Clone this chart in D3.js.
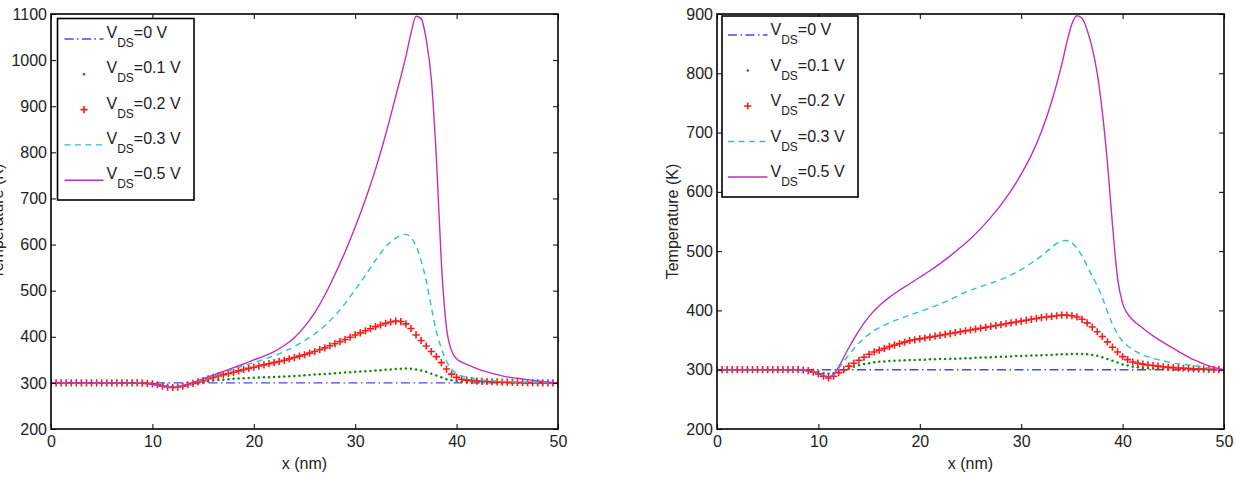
<!DOCTYPE html>
<html><head><meta charset="utf-8">
<script src="https://cdn.jsdelivr.net/npm/d3@7"></script>
<style>body{margin:0;background:#fff} svg text{font-family:"Liberation Sans",Arial,sans-serif;}</style>
</head><body><svg id="c" width="1236" height="484"></svg>
<script>
// ---------- shared ----------
const xTicks = [0, 10, 20, 30, 40, 50];
const seriesLabels = ["=0 V", "=0.1 V", "=0.2 V", "=0.3 V", "=0.5 V"];
const sampleStep = 0.5; // marker series are sampled every 0.5 nm
const yLabel = "Temperature (K)";
const xLabel = "x (nm)";

// ---------- left panel ----------
const L_yTicks = [200, 300, 400, 500, 600, 700, 800, 900, 1000, 1100];
const L_blueX = [0, 50];
const L_blueV = [300, 300];
const L_green = [
 300,300,300,300,300,300,300,300,300,300,
 300,300,300,300,300,300,300,300,300,299.5,
 298.5,297,295,293,292,292.5,294,296,298,300,
 302,303.5,305,306,307,308,309,309.5,310,310.5,
 311,311.5,312,312.5,313,313.5,314,314.5,315,315.5,
 316.5,317,318,318.5,319.5,320,321,321.5,322.5,323,
 324,324.5,325.5,326,327,327.5,328.5,329,330,330.5,
 331,330.5,329,327,324,320,316,312,308,305.5,
 304,303,302,301.5,301,300.5,300.5,300.5,300.5,300,
 300,300,300,300,300,300,300,300,300,300,
 300];
const L_red = [
 300,300,300,300,300,300,300,300,300,300,
 300,300,300,300,300,300,300,300,299.5,299,
 298,296,293,291,290,290.5,293,296,299,302,
 305,309,312,315,318,320.5,323,326,329,331.5,
 334,336.5,339,341.5,344,346.5,349,352,355,358,
 361,364.5,368,372,376,380.5,385,389.5,394,399,
 404,408.5,413,417.5,422,425.5,429,432,434,433,
 428,418,404,392,380,368,357,344,330,319,
 312,308,306,305,304,303.5,303,302.5,302,301.5,
 301.5,301,301,300.5,300.5,300.5,300,300,300,300,
 300];
const L_cyanX = [0,3,6,9,10,11,12,13,14,15,16,17,18,19,20,21,22,23,24,25,26,27,28,29,30,31,32,33,34,34.5,35,35.5,36,36.5,37,37.5,38,38.5,39,39.5,40,41,42,43,44,46,48,50];
const L_cyanV = [300,300,300,300,297,293,290,293,300,307,315,322,330,337,344,351,359,368,379,392,406,424,446,472,502,533,566,595,614,620,622,615,597,565,522,465,412,375,347,330,320,312,308,305,304,302,301,300];
const L_magX = [0,3,6,9,10,11,12,13,14,15,16,17,18,19,20,21,22,23,24,25,26,27,28,29,30,31,32,33,34,35,35.5,36,36.5,37,37.5,38,38.5,39,39.5,40,40.5,41,42,43,44,45,46,47,48,49,50];
const L_magV = [300,300,300,299,297,293,290,293,301,309,317,325,333,341,350,358,368,381,398,422,452,490,535,584,638,697,763,838,922,1008,1058,1095,1090,1045,960,790,560,420,370,352,345,340,331,324,318,313,310,307,304,302,300];

// ---------- right panel ----------
const R_yTicks = [200, 300, 400, 500, 600, 700, 800, 900];
const R_blueX = [0, 50];
const R_blueV = [300, 300];
const R_green = [
 300,300,300,300,300,300,300,300,300,300,
 300,300,300,300,300,300,300,299.5,299,297.5,
 296,294,293,294,296,299,302,305,307.5,309.5,
 311,312.5,313.5,314,314.5,315,315.5,316,316.5,316.5,
 317,317,317.5,317.5,318,318,318.5,318.5,319,319.5,
 319.5,320,320.5,320.5,321,321.5,322,322,322.5,323,
 323,323.5,324,324,324.5,325,325,325.5,326,326,
 326.5,326.5,326.5,326,325,323.5,321,318,315,312,
 309,307,305,304,303,302.5,302,301.5,301,301,
 300.5,300.5,300.5,300.5,300,300,300,300,300,300,
 300];
const R_red = [
 300,300,300,300,300,300,300,300,300,300,
 300,300,300,300,300,300,300,299.5,298.5,296,
 293,289,286,289,295,300,306,311,316,321,
 326,330,333,336,339,341.5,344,346.5,349,350.5,
 352,353.5,355,356.5,358,359.5,361,362.5,364,365.5,
 367,368.5,370,371.5,373,374.5,376,377.5,379,380.5,
 382,383.5,385,386.5,388,389,390,391,392,392,
 391,389,385,379,372,364,356,347,338,330,
 322,317,313,311,309.5,308,307,306,305,304,
 303.5,303,302.5,302,301.5,301,301,300.5,300.5,300,
 300];
const R_cyanX = [0,3,6,8,9,10,11,11.5,12,13,14,15,16,17,18,19,20,21,22,23,24,25,26,27,28,29,30,31,32,33,33.5,34,34.5,35,35.5,36,36.5,37,37.5,38,38.5,39,39.5,40,40.5,41,42,43,44,45,46,47,48,49,50];
const R_cyanV = [300,300,300,300,298.5,294,288,291,302,325,345,360,371,379,386,392,398,404,411,418,427,434,440,446,452,460,469,480,492,506,513,517,518,514,505,492,475,458,442,422,398,377,360,348,340,334,325,319,315,311,309,307,304,302,300];
const R_magX = [0,3,6,8,9,10,11,11.5,12,13,14,15,16,17,18,19,20,21,22,23,24,25,26,27,28,29,30,31,32,33,34,34.5,35,35.5,36,36.5,37,37.5,38,38.5,39,39.5,40,40.5,41,42,43,44,45,46,47,48,49,50];
const R_magV = [300,300,300,300,298,293,288,292,305,337,366,390,408,422,434,445,456,467,479,492,506,521,538,557,578,602,630,662,702,752,815,852,883,897,893,873,843,800,735,650,545,455,412,394,384,370,357,346,336,326,317,310,304,300];

// ---------- styles ----------
const C_blue = "#4646f0", C_green = "#108a10", C_red = "#ff1a1a", C_cyan = "#2cc4c4", C_mag = "#c22ec2";

const svg = d3.select("#c");

function panel(o) {
  const x = d3.scaleLinear().domain([0, 50]).range([o.l, o.r]);
  const y = d3.scaleLinear().domain(o.yDom).range([o.b, o.t]);
  const g = svg.append("g");
  const clipId = "clip" + o.id;
  svg.append("clipPath").attr("id", clipId).append("rect")
    .attr("x", o.l).attr("y", o.t).attr("width", o.r - o.l).attr("height", o.b - o.t);
  const dg = g.append("g").attr("clip-path", `url(#${clipId})`);
  const line = d3.line().x(d => x(d[0])).y(d => y(d[1])).curve(d3.curveMonotoneX);
  const grid = o.green.map((v, i) => i * sampleStep);

  dg.append("path").datum(d3.zip(o.blueX, o.blueV)).attr("d", line)
    .attr("fill", "none").attr("stroke", C_blue).attr("stroke-width", 1.4).attr("stroke-dasharray", "9,3.5,1.5,3.5");
  dg.append("g").selectAll("circle").data(d3.zip(grid, o.green)).join("circle")
    .attr("cx", d => x(d[0])).attr("cy", d => y(d[1])).attr("r", 1.25).attr("fill", C_green);
  dg.append("g").selectAll("path").data(d3.zip(grid, o.red)).join("path")
    .attr("d", d => { const cx = x(d[0]), cy = y(d[1]), s = 3.6; return `M${cx - s},${cy}H${cx + s}M${cx},${cy - s}V${cy + s}`; })
    .attr("stroke", C_red).attr("stroke-width", 1.6).attr("fill", "none");
  dg.append("path").datum(d3.zip(o.cyanX, o.cyanV)).attr("d", line)
    .attr("fill", "none").attr("stroke", C_cyan).attr("stroke-width", 1.4).attr("stroke-dasharray", "6,4.5");
  dg.append("path").datum(d3.zip(o.magX, o.magV)).attr("d", line)
    .attr("fill", "none").attr("stroke", C_mag).attr("stroke-width", 1.4);

  const styleAxis = sel => {
    sel.select(".domain").remove();
    sel.selectAll(".tick line").attr("stroke", "#000").attr("stroke-width", 1);
    sel.selectAll(".tick text").attr("font-size", 16).attr("fill", "#222")
      .attr("font-family", '"Liberation Sans", Arial, sans-serif');
  };
  g.append("g").attr("transform", `translate(0,${o.b})`)
    .call(d3.axisBottom(x).tickValues(xTicks).tickFormat(d3.format("d")).tickSizeInner(-5).tickSizeOuter(0).tickPadding(7)).call(styleAxis);
  g.append("g").attr("transform", `translate(0,${o.t})`)
    .call(d3.axisTop(x).tickValues(xTicks).tickFormat("").tickSizeInner(-5).tickSizeOuter(0)).call(styleAxis);
  g.append("g").attr("transform", `translate(${o.l},0)`)
    .call(d3.axisLeft(y).tickValues(o.yTicks).tickFormat(d3.format("d")).tickSizeInner(-5).tickSizeOuter(0).tickPadding(4)).call(styleAxis);
  g.append("g").attr("transform", `translate(${o.r},0)`)
    .call(d3.axisRight(y).tickValues(o.yTicks).tickFormat("").tickSizeInner(-5).tickSizeOuter(0)).call(styleAxis);
  g.append("rect").attr("x", o.l).attr("y", o.t).attr("width", o.r - o.l).attr("height", o.b - o.t)
    .attr("fill", "none").attr("stroke", "#000").attr("stroke-width", 1.6);

  g.append("text").attr("x", (o.l + o.r) / 2).attr("y", 469).attr("text-anchor", "middle")
    .attr("font-size", 16).attr("fill", "#222").text(xLabel);
  g.append("text").attr("transform", `translate(${o.ylx},${(o.t + o.b) / 2}) rotate(-90)`)
    .attr("text-anchor", "middle").attr("font-size", 16).attr("fill", "#222").text(yLabel);

  const lg = g.append("g");
  lg.append("rect").attr("x", o.lgx).attr("y", o.lgy).attr("width", o.lgw).attr("height", o.lgh)
    .attr("fill", "#fff").attr("stroke", "#000").attr("stroke-width", 1.6);
  const rows = seriesLabels.map((s, i) => ({ s, i, yy: o.row0 + i * o.rowDy }));
  rows.forEach(r => {
    const sx0 = o.sx0, sx1 = o.sx1, mx = (sx0 + sx1) / 2;
    if (r.i === 0) lg.append("line").attr("x1", sx0).attr("x2", sx1).attr("y1", r.yy).attr("y2", r.yy)
      .attr("stroke", C_blue).attr("stroke-width", 1.4).attr("stroke-dasharray", "9,3.5,1.5,3.5");
    if (r.i === 1) lg.append("circle").attr("cx", mx).attr("cy", r.yy).attr("r", 1.25).attr("fill", C_green);
    if (r.i === 2) lg.append("path").attr("d", `M${mx - 3.6},${r.yy}H${mx + 3.6}M${mx},${r.yy - 3.6}V${r.yy + 3.6}`)
      .attr("stroke", C_red).attr("stroke-width", 1.6);
    if (r.i === 3) lg.append("line").attr("x1", sx0).attr("x2", sx1).attr("y1", r.yy).attr("y2", r.yy)
      .attr("stroke", C_cyan).attr("stroke-width", 1.4).attr("stroke-dasharray", "6,4.5");
    if (r.i === 4) lg.append("line").attr("x1", sx0).attr("x2", sx1).attr("y1", r.yy).attr("y2", r.yy)
      .attr("stroke", C_mag).attr("stroke-width", 1.4);
    const t = lg.append("text").attr("x", o.tx).attr("y", r.yy + o.tdy).attr("font-size", 16).attr("fill", "#222");
    t.append("tspan").text("V");
    t.append("tspan").attr("dy", 9).attr("font-size", 12).text("DS");
    t.append("tspan").attr("dy", -9).text(r.s);
  });
}

panel({ id: "L", l: 51, r: 558, t: 14, b: 429, yDom: [200, 1100], yTicks: L_yTicks,
  blueX: L_blueX, blueV: L_blueV, green: L_green, red: L_red, cyanX: L_cyanX, cyanV: L_cyanV, magX: L_magX, magV: L_magV,
  ylx: 3, lgx: 57.5, lgy: 18.5, lgw: 136.5, lgh: 181.5, row0: 39, rowDy: 35.3, sx0: 64.5, sx1: 103.5, tx: 106.5, tdy: -1 });
panel({ id: "R", l: 717, r: 1224, t: 14, b: 429, yDom: [200, 900], yTicks: R_yTicks,
  blueX: R_blueX, blueV: R_blueV, green: R_green, red: R_red, cyanX: R_cyanX, cyanV: R_cyanV, magX: R_magX, magV: R_magV,
  ylx: 678, lgx: 722, lgy: 16, lgw: 136, lgh: 181, row0: 35, rowDy: 35.5, sx0: 728, sx1: 767.5, tx: 770.5, tdy: 0 });
</script></body></html>
